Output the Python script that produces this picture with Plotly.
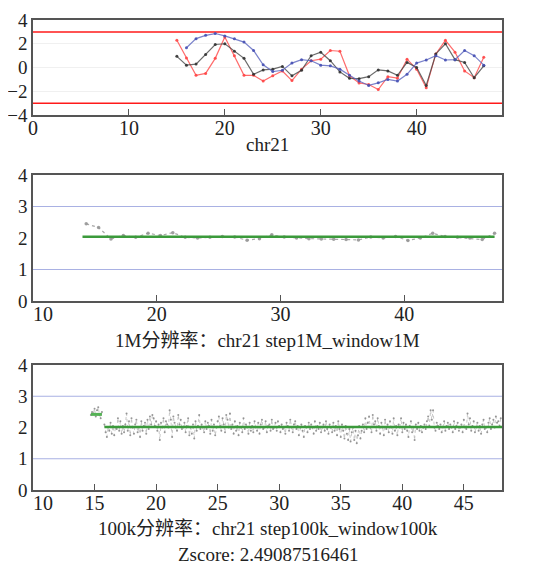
import plotly.graph_objects as go
import numpy as np

# ---------------- data ----------------
# Top panel: three z-score series on chr21
top_x_red = list(range(15, 48))
top_red = [2.29, 0.8, -0.66, -0.5, 0.77, 2.57, 1.0, -0.66, -0.66, -1.14, -0.7, -0.3, -1.1,
           -0.14, 0.57, 0.7, 1.43, 1.37, -0.7, -1.3, -1.43, -1.86, -0.77, -0.9, 0.7, -0.14,
           -1.7, 1.14, 2.29, 1.29, -0.29, -0.86, 0.86]
top_x_black = list(range(15, 48))
top_black = [0.94, 0.2, 0.29, 1.1, 1.94, 2.0, 1.37, 0.77, -0.57, -0.2, -0.14, 0.09, -0.7,
             -0.23, 1.0, 1.29, 0.57, -0.37, -0.91, -0.94, -0.77, -0.2, -0.29, -0.66, 0.43,
             0.0, -1.51, 1.14, 2.0, 0.66, 0.43, -0.86, 0.14]
top_x_blue = list(range(16, 48))
top_blue = [1.66, 2.43, 2.71, 2.86, 2.66, 2.43, 2.14, 1.43, 0.23, -0.34, -0.23, 0.37, 0.66,
            0.57, 0.2, 0.14, -0.14, -0.66, -1.14, -1.51, -1.29, -1.0, -1.14, -0.57, 0.37,
            0.63, 1.0, 0.63, 0.66, 1.43, 1.0, 0.2]
top_limits = [3, -3]
top_xticks = [0, 10, 20, 30, 40]

# Middle panel: 1M resolution copy number
mid_start, mid_step = 14.3, 1.0
mid_vals = [2.45, 2.33, 1.97, 2.08, 2.02, 2.15, 2.08, 2.17, 2.02, 2.0, 2.02, 2.05, 2.03, 1.93,
            1.98, 2.1, 2.03, 2.0, 1.98, 1.97, 1.96, 1.95, 1.94, 2.03, 2.0, 2.05, 1.92, 2.0,
            2.15, 2.05, 2.02, 2.0, 1.95, 2.15]
mid_seg_x = [14.0, 47.3]
mid_seg_y = [2.04, 2.04]
mid_xticks = [10, 20, 30, 40]

# Bottom panel: 100k resolution copy number
bot1_start, bot_step = 14.7, 0.1
bot1_vals = [2.4, 2.5, 2.45, 2.6, 2.35, 2.55, 2.65, 2.4, 2.3, 2.5]
bot2_start = 15.8
bot2_vals = [
    2.1, 1.85, 1.7, 2.0, 1.9, 2.15, 1.8, 2.05, 1.75, 2.0, 1.95, 2.3, 1.9, 2.2, 1.8, 2.05, 1.85, 2.1, 2.45, 1.9,
    2.2, 1.75, 2.3, 2.0, 1.8, 2.1, 2.25, 1.85, 2.0, 1.7, 2.2, 1.9, 2.05, 2.15, 1.8, 2.25, 1.95, 2.35, 2.1, 2.4,
    2.3, 2.05, 2.2, 1.9, 2.1, 1.6, 2.15, 2.0, 2.3, 1.85, 2.2, 2.1, 2.0, 2.55, 2.25, 1.7, 2.35, 2.15, 2.0, 1.9,
    2.4, 2.1, 2.25, 1.95, 2.0, 2.15, 1.85, 2.05, 2.3, 1.75, 2.0, 1.8, 2.1, 1.65, 2.2, 1.9, 2.05, 2.4, 1.95, 2.1,
    2.0, 1.85, 2.2, 1.95, 2.15, 2.05, 1.8, 2.25, 1.9, 2.1, 1.75, 2.0, 2.2, 2.35, 2.05, 1.9, 2.3, 2.1, 1.85, 2.4,
    2.25, 2.0, 2.45, 1.95, 2.1, 1.8, 2.2, 1.9, 2.05, 1.75, 2.15, 2.0, 1.85, 2.3, 1.95, 2.1, 2.0, 1.8, 2.15, 1.9,
    2.05, 1.85, 2.2, 2.0, 1.9, 2.15, 1.8, 2.1, 2.25, 1.95, 2.0, 2.2, 1.85, 2.05, 2.1, 1.9, 2.25, 1.95, 2.0, 2.15,
    1.9, 2.2, 2.05, 1.85, 2.1, 1.95, 2.0, 1.8, 2.15, 2.05, 1.9, 2.25, 2.0, 1.85, 2.1, 2.2, 1.95, 2.05, 1.75, 2.0,
    2.1, 1.9, 1.7, 2.05, 2.0, 1.85, 2.15, 1.95, 2.1, 2.0, 1.8, 2.2, 1.9, 2.05, 1.95, 2.15, 1.85, 2.0, 2.1, 1.9,
    2.2, 1.95, 1.8, 2.1, 2.0, 1.85, 2.15, 1.9, 2.05, 1.75, 2.2, 1.95, 1.7, 2.1, 1.9, 1.65, 2.05, 1.8, 1.6, 1.95,
    1.55, 1.85, 2.0, 1.6, 1.9, 1.5, 1.75, 2.05, 1.65, 1.9, 2.1, 1.85, 2.3, 1.95, 2.15, 2.35, 2.0, 1.85, 2.4, 2.1,
    2.2, 1.9, 2.3, 2.05, 1.8, 2.15, 2.0, 1.75, 2.25, 1.95, 2.1, 1.85, 2.2, 2.0, 1.8, 2.3, 1.9, 2.05, 1.75, 2.1,
    2.0, 2.3, 1.85, 2.15, 1.95, 2.1, 1.9, 1.7, 2.05, 2.2, 1.85, 2.0, 1.6, 2.1, 1.95, 2.15, 1.9, 2.05, 1.85, 2.0,
    2.1, 1.95, 2.2, 2.35, 2.05, 2.55, 2.25, 2.55, 2.0, 1.9, 2.15, 2.05, 1.95, 2.1, 1.85, 2.0, 2.2, 1.9, 2.05, 2.15,
    1.95, 2.1, 2.0, 1.85, 2.2, 1.95, 2.05, 2.15, 1.9, 2.0, 2.1, 1.85, 2.25, 2.0, 1.95, 2.45, 2.1, 2.3, 1.9, 2.05,
    2.2, 1.85, 2.0, 2.15, 1.9, 2.05, 1.8, 2.1, 2.25, 1.95, 2.0, 1.85, 2.15, 2.3, 1.95, 2.1, 2.25, 2.0, 2.35, 2.15,
    2.2, 2.05, 2.3,
]
bot_seg1_x = [14.7, 15.6]
bot_seg1_y = [2.42, 2.42]
bot_seg2_x = [15.8, 48.2]
bot_seg2_y = [2.02, 2.02]
bot_xticks = [10, 15, 20, 25, 30, 35, 40, 45]

ref_lines = [1, 3]

title_top = "chr21"
title_mid = "1M分辨率：chr21 step1M_window1M"
title_bot = "100k分辨率：chr21 step100k_window100k"
title_z = "Zscore: 2.49087516461"

# ---------------- figure ----------------
# The page body has an 8px default margin; positions below are in window pixels
OFF = 8
WIN_W, WIN_H = 554, 567
W, H = WIN_W - OFF, WIN_H - OFF
FONT = "Liberation Serif, Times New Roman, Noto Sans CJK SC, serif"

mid_x = [mid_start + mid_step * i for i in range(len(mid_vals))]
bot1_x = [bot1_start + bot_step * i for i in range(len(bot1_vals))]
bot2_x = [bot2_start + bot_step * i for i in range(len(bot2_vals))]

def tick_text(vals):
    # first label nudged right (as in the original) so it clears the y-axis "0"
    return ["\u2007\u2007" + str(vals[0])] + [str(v) for v in vals[1:]]

fig = go.Figure()

# top
fig.add_trace(go.Scatter(x=top_x_red, y=top_red, mode="lines+markers",
                         line=dict(color="rgba(255,70,70,0.8)", width=1.2),
                         marker=dict(size=3, color="rgba(255,70,70,0.9)"),
                         xaxis="x", yaxis="y"))
fig.add_trace(go.Scatter(x=top_x_black, y=top_black, mode="lines+markers",
                         line=dict(color="rgba(70,70,70,0.8)", width=1.2),
                         marker=dict(size=3, color="rgba(50,50,50,0.9)"),
                         xaxis="x", yaxis="y"))
fig.add_trace(go.Scatter(x=top_x_blue, y=top_blue, mode="lines+markers",
                         line=dict(color="rgba(90,100,190,0.8)", width=1.2),
                         marker=dict(size=3, color="rgba(70,80,180,0.9)"),
                         xaxis="x", yaxis="y"))

# middle
fig.add_trace(go.Scatter(x=mid_x, y=mid_vals, mode="lines+markers",
                         line=dict(color="rgba(160,160,160,0.9)", width=1.2, dash="dot"),
                         marker=dict(size=3.5, color="rgba(150,150,150,0.9)"),
                         xaxis="x2", yaxis="y2"))
fig.add_trace(go.Scatter(x=mid_seg_x, y=mid_seg_y, mode="lines",
                         line=dict(color="#3b9a3b", width=2.5),
                         xaxis="x2", yaxis="y2"))

# bottom
for bx, bv in ((bot1_x, bot1_vals), (bot2_x, bot2_vals)):
    fig.add_trace(go.Scatter(x=bx, y=bv, mode="lines+markers",
                             line=dict(color="rgba(170,170,170,0.8)", width=0.8, dash="dot"),
                             marker=dict(size=2, color="rgba(140,140,140,0.9)"),
                             xaxis="x3", yaxis="y3"))
fig.add_trace(go.Scatter(x=bot_seg1_x, y=bot_seg1_y, mode="lines",
                         line=dict(color="#55b255", width=3), xaxis="x3", yaxis="y3"))
fig.add_trace(go.Scatter(x=bot_seg2_x, y=bot_seg2_y, mode="lines",
                         line=dict(color="#3b9a3b", width=2.5), xaxis="x3", yaxis="y3"))

# reference lines
shapes = []
for v in top_limits:
    shapes.append(dict(type="line", xref="x domain", yref="y", x0=0, x1=1, y0=v, y1=v,
                       line=dict(color="#ff1a1a", width=1.5), layer="below"))
for ax in ("y2", "y3"):
    xr = "x2 domain" if ax == "y2" else "x3 domain"
    for v in ref_lines:
        shapes.append(dict(type="line", xref=xr, yref=ax, x0=0, x1=1, y0=v, y1=v,
                           line=dict(color="#a9b1e3", width=1.2), layer="below"))

def px_x(x):
    return (x - OFF) / W

def px_y(y):
    return 1 - (y - OFF) / H

xd = [px_x(33), px_x(502)]
def yd(top, bot):
    return [px_y(bot), px_y(top)]

axis_common = dict(showline=True, linecolor="#555", linewidth=1.5, mirror=True,
                   zeroline=False, automargin=False)
xfont = dict(family=FONT, size=20, color="#222")
yfont = dict(family=FONT, size=19, color="#222")
xtick = dict(ticks="inside", ticklen=6, tickcolor="#555", showgrid=False,
             tickfont=xfont, ticklabelstandoff=-6)

fig.update_layout(
    width=W, height=H, margin=dict(l=0, r=0, t=0, b=0, autoexpand=False),
    paper_bgcolor="white", plot_bgcolor="white", showlegend=False,
    font=dict(family=FONT, color="#222"),
    shapes=shapes,
    xaxis=dict(domain=xd, anchor="y", range=[0, 48.9], tickvals=top_xticks,
               **xtick, **axis_common),
    yaxis=dict(domain=yd(20, 115), anchor="x", range=[-4, 4], tickvals=[-4, -2, 0, 2, 4],
               ticks="", showgrid=True, gridcolor="#f0f0f0", tickfont=yfont, **axis_common),
    xaxis2=dict(domain=xd, anchor="y2", range=[10, 47.9], tickvals=mid_xticks,
                ticktext=tick_text(mid_xticks), **xtick, **axis_common),
    yaxis2=dict(domain=yd(175, 301), anchor="x2", range=[0, 4], tickvals=[0, 1, 2, 3, 4],
                ticks="", showgrid=False, tickfont=yfont, **axis_common),
    xaxis3=dict(domain=xd, anchor="y3", range=[10, 48.1], tickvals=bot_xticks,
                ticktext=tick_text(bot_xticks), **xtick, **axis_common),
    yaxis3=dict(domain=yd(365, 490), anchor="x3", range=[0, 4], tickvals=[0, 1, 2, 3, 4],
                ticks="", showgrid=False, tickfont=yfont, **axis_common),
)

def label(text, ypx):
    fig.add_annotation(text=text, xref="paper", yref="paper", x=px_x((33 + 502) / 2),
                       y=px_y(ypx), xanchor="center", yanchor="middle", showarrow=False,
                       font=dict(family=FONT, size=19, color="#222"))

label(title_top, 145)
label(title_mid, 340)
label(title_bot, 528)
label(title_z, 554)

fig.write_html("out.html")
